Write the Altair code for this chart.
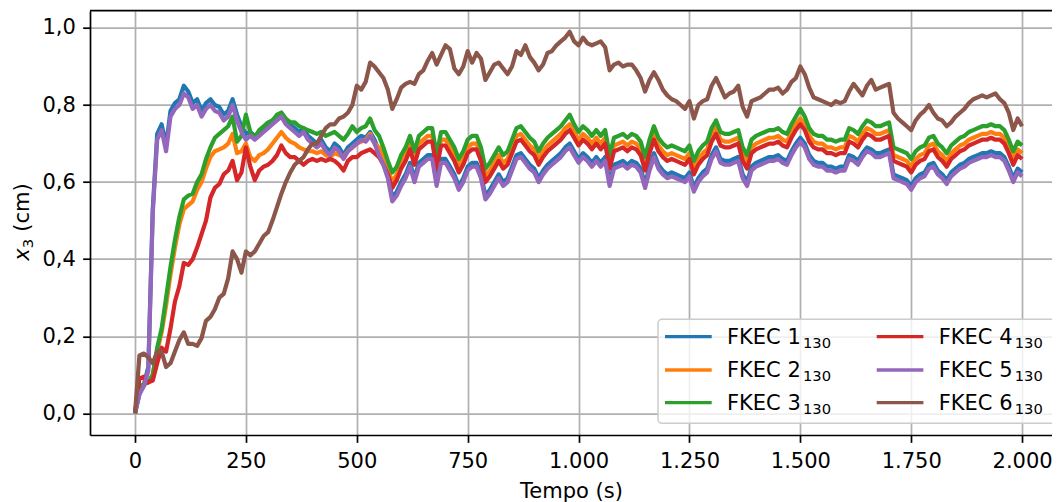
import altair as alt
import pandas as pd

t = list(range(0, 2001, 10))

fkec1 = [0.000, 0.050, 0.075, 0.120, 0.530, 0.725, 0.750, 0.695, 0.785, 0.805,
         0.815, 0.850, 0.835, 0.805, 0.815, 0.785, 0.805, 0.815, 0.800, 0.795,
         0.775, 0.785, 0.815, 0.775, 0.745, 0.725, 0.730, 0.720, 0.730, 0.740,
         0.750, 0.760, 0.770, 0.780, 0.760, 0.750, 0.740, 0.730, 0.740, 0.720,
         0.710, 0.700, 0.710, 0.690, 0.680, 0.700, 0.690, 0.670, 0.690, 0.700,
         0.710, 0.720, 0.715, 0.730, 0.710, 0.680, 0.655, 0.620, 0.560, 0.575,
         0.600, 0.620, 0.650, 0.610, 0.650, 0.660, 0.670, 0.670, 0.600, 0.660,
         0.660, 0.640, 0.620, 0.590, 0.610, 0.640, 0.650, 0.650, 0.620, 0.565,
         0.580, 0.600, 0.620, 0.600, 0.610, 0.640, 0.670, 0.675, 0.660, 0.645,
         0.635, 0.610, 0.630, 0.645, 0.655, 0.665, 0.675, 0.690, 0.700, 0.680,
         0.660, 0.675, 0.665, 0.650, 0.665, 0.650, 0.665, 0.600, 0.645, 0.650,
         0.655, 0.645, 0.655, 0.650, 0.635, 0.595, 0.640, 0.675, 0.645, 0.630,
         0.620, 0.625, 0.620, 0.615, 0.610, 0.625, 0.585, 0.610, 0.625, 0.635,
         0.670, 0.690, 0.660, 0.655, 0.655, 0.660, 0.665, 0.620, 0.600, 0.640,
         0.650, 0.655, 0.660, 0.665, 0.665, 0.670, 0.660, 0.655, 0.680, 0.700,
         0.715, 0.700, 0.670, 0.655, 0.650, 0.650, 0.640, 0.640, 0.635, 0.640,
         0.640, 0.670, 0.665, 0.655, 0.675, 0.690, 0.685, 0.675, 0.675, 0.680,
         0.685, 0.620, 0.615, 0.610, 0.605, 0.590, 0.610, 0.620, 0.625, 0.645,
         0.650, 0.630, 0.620, 0.605, 0.625, 0.635, 0.645, 0.650, 0.660, 0.665,
         0.670, 0.675, 0.675, 0.680, 0.675, 0.675, 0.665, 0.640, 0.610, 0.635,
         0.625]

fkec2 = [0.000, 0.070, 0.075, 0.080, 0.100, 0.160, 0.210, 0.280, 0.360, 0.430,
         0.490, 0.530, 0.540, 0.550, 0.580, 0.600, 0.635, 0.665, 0.680, 0.685,
         0.690, 0.700, 0.725, 0.675, 0.680, 0.700, 0.665, 0.655, 0.670, 0.675,
         0.685, 0.700, 0.715, 0.730, 0.715, 0.705, 0.700, 0.690, 0.685, 0.680,
         0.680, 0.675, 0.680, 0.670, 0.665, 0.675, 0.670, 0.665, 0.680, 0.690,
         0.700, 0.705, 0.710, 0.725, 0.700, 0.690, 0.665, 0.635, 0.600, 0.620,
         0.650, 0.670, 0.700, 0.660, 0.700, 0.710, 0.720, 0.720, 0.650, 0.710,
         0.710, 0.690, 0.670, 0.640, 0.660, 0.690, 0.700, 0.700, 0.670, 0.615,
         0.630, 0.650, 0.670, 0.650, 0.660, 0.690, 0.720, 0.725, 0.710, 0.695,
         0.685, 0.660, 0.680, 0.695, 0.705, 0.715, 0.725, 0.740, 0.750, 0.730,
         0.710, 0.725, 0.715, 0.700, 0.715, 0.700, 0.715, 0.650, 0.695, 0.700,
         0.705, 0.695, 0.705, 0.700, 0.685, 0.645, 0.690, 0.725, 0.695, 0.680,
         0.670, 0.675, 0.670, 0.665, 0.660, 0.675, 0.635, 0.660, 0.675, 0.685,
         0.720, 0.740, 0.710, 0.705, 0.705, 0.710, 0.715, 0.670, 0.650, 0.690,
         0.700, 0.705, 0.710, 0.715, 0.715, 0.720, 0.710, 0.705, 0.730, 0.750,
         0.765, 0.750, 0.720, 0.705, 0.700, 0.700, 0.690, 0.690, 0.685, 0.690,
         0.690, 0.720, 0.715, 0.705, 0.725, 0.740, 0.735, 0.725, 0.725, 0.730,
         0.735, 0.670, 0.665, 0.660, 0.655, 0.640, 0.660, 0.670, 0.675, 0.695,
         0.700, 0.680, 0.670, 0.655, 0.675, 0.685, 0.695, 0.700, 0.710, 0.715,
         0.720, 0.725, 0.725, 0.730, 0.725, 0.725, 0.715, 0.690, 0.660, 0.685,
         0.675]

fkec3 = [0.000, 0.070, 0.075, 0.080, 0.100, 0.170, 0.220, 0.300, 0.380, 0.450,
         0.510, 0.555, 0.565, 0.570, 0.600, 0.620, 0.660, 0.690, 0.715, 0.725,
         0.735, 0.745, 0.770, 0.705, 0.720, 0.775, 0.730, 0.715, 0.735, 0.745,
         0.755, 0.760, 0.775, 0.780, 0.765, 0.755, 0.755, 0.745, 0.740, 0.735,
         0.730, 0.725, 0.730, 0.720, 0.725, 0.730, 0.720, 0.710, 0.725, 0.745,
         0.730, 0.740, 0.745, 0.765, 0.735, 0.720, 0.690, 0.655, 0.625, 0.640,
         0.670, 0.690, 0.720, 0.680, 0.720, 0.730, 0.740, 0.740, 0.670, 0.730,
         0.730, 0.710, 0.690, 0.660, 0.680, 0.710, 0.720, 0.720, 0.690, 0.635,
         0.650, 0.670, 0.690, 0.670, 0.680, 0.710, 0.740, 0.745, 0.730, 0.715,
         0.705, 0.680, 0.700, 0.715, 0.725, 0.735, 0.745, 0.760, 0.775, 0.750,
         0.730, 0.745, 0.735, 0.720, 0.735, 0.720, 0.735, 0.670, 0.715, 0.720,
         0.725, 0.715, 0.725, 0.720, 0.705, 0.665, 0.710, 0.745, 0.715, 0.700,
         0.690, 0.695, 0.690, 0.685, 0.680, 0.695, 0.655, 0.680, 0.695, 0.705,
         0.740, 0.760, 0.730, 0.725, 0.725, 0.730, 0.735, 0.690, 0.670, 0.710,
         0.720, 0.725, 0.730, 0.735, 0.735, 0.740, 0.730, 0.725, 0.750, 0.770,
         0.790, 0.770, 0.740, 0.725, 0.720, 0.720, 0.710, 0.710, 0.705, 0.710,
         0.710, 0.740, 0.735, 0.725, 0.745, 0.760, 0.755, 0.745, 0.745, 0.750,
         0.755, 0.690, 0.685, 0.680, 0.675, 0.660, 0.680, 0.690, 0.695, 0.715,
         0.720, 0.700, 0.690, 0.675, 0.695, 0.705, 0.715, 0.720, 0.730, 0.735,
         0.740, 0.745, 0.745, 0.750, 0.745, 0.745, 0.735, 0.710, 0.680, 0.705,
         0.695]

fkec4 = [0.000, 0.090, 0.095, 0.080, 0.085, 0.130, 0.170, 0.160, 0.220, 0.290,
         0.330, 0.390, 0.385, 0.400, 0.430, 0.465, 0.500, 0.560, 0.585, 0.595,
         0.620, 0.630, 0.655, 0.605, 0.625, 0.690, 0.640, 0.605, 0.630, 0.640,
         0.645, 0.655, 0.670, 0.695, 0.675, 0.665, 0.665, 0.655, 0.645, 0.655,
         0.660, 0.655, 0.660, 0.655, 0.660, 0.655, 0.645, 0.630, 0.655, 0.665,
         0.665, 0.675, 0.680, 0.685, 0.675, 0.665, 0.645, 0.620, 0.585, 0.605,
         0.635, 0.655, 0.685, 0.645, 0.685, 0.695, 0.705, 0.705, 0.635, 0.695,
         0.695, 0.675, 0.655, 0.625, 0.645, 0.675, 0.685, 0.685, 0.655, 0.600,
         0.615, 0.635, 0.655, 0.635, 0.645, 0.675, 0.705, 0.710, 0.695, 0.680,
         0.670, 0.645, 0.665, 0.680, 0.690, 0.700, 0.710, 0.725, 0.735, 0.715,
         0.695, 0.710, 0.700, 0.685, 0.700, 0.685, 0.700, 0.635, 0.680, 0.685,
         0.690, 0.680, 0.690, 0.685, 0.670, 0.630, 0.675, 0.710, 0.680, 0.665,
         0.655, 0.660, 0.655, 0.650, 0.645, 0.660, 0.620, 0.645, 0.660, 0.670,
         0.705, 0.725, 0.695, 0.690, 0.690, 0.695, 0.700, 0.655, 0.635, 0.675,
         0.685, 0.690, 0.695, 0.700, 0.700, 0.705, 0.695, 0.690, 0.715, 0.735,
         0.750, 0.735, 0.705, 0.690, 0.685, 0.685, 0.675, 0.675, 0.670, 0.675,
         0.675, 0.705, 0.700, 0.690, 0.710, 0.725, 0.720, 0.710, 0.710, 0.715,
         0.720, 0.655, 0.650, 0.645, 0.640, 0.625, 0.645, 0.655, 0.660, 0.680,
         0.685, 0.665, 0.655, 0.640, 0.660, 0.670, 0.680, 0.685, 0.695, 0.700,
         0.705, 0.710, 0.710, 0.715, 0.710, 0.710, 0.700, 0.675, 0.645, 0.670,
         0.660]

fkec5 = [0.000, 0.050, 0.070, 0.110, 0.520, 0.710, 0.735, 0.680, 0.770, 0.790,
         0.800, 0.830, 0.820, 0.790, 0.800, 0.770, 0.790, 0.800, 0.785, 0.780,
         0.760, 0.770, 0.800, 0.760, 0.730, 0.710, 0.720, 0.710, 0.720, 0.730,
         0.740, 0.750, 0.760, 0.770, 0.750, 0.740, 0.730, 0.720, 0.730, 0.710,
         0.700, 0.690, 0.700, 0.680, 0.670, 0.690, 0.680, 0.660, 0.680, 0.690,
         0.700, 0.710, 0.705, 0.720, 0.700, 0.670, 0.645, 0.610, 0.550, 0.565,
         0.590, 0.610, 0.640, 0.600, 0.640, 0.650, 0.660, 0.660, 0.590, 0.650,
         0.650, 0.630, 0.610, 0.580, 0.600, 0.630, 0.640, 0.640, 0.610, 0.555,
         0.570, 0.590, 0.610, 0.590, 0.600, 0.630, 0.660, 0.665, 0.650, 0.635,
         0.625, 0.600, 0.620, 0.635, 0.645, 0.655, 0.665, 0.680, 0.690, 0.670,
         0.650, 0.665, 0.655, 0.640, 0.655, 0.640, 0.655, 0.590, 0.635, 0.640,
         0.645, 0.635, 0.645, 0.640, 0.625, 0.585, 0.630, 0.665, 0.635, 0.620,
         0.610, 0.615, 0.610, 0.605, 0.600, 0.615, 0.575, 0.600, 0.615, 0.625,
         0.660, 0.680, 0.650, 0.645, 0.645, 0.650, 0.655, 0.610, 0.590, 0.630,
         0.640, 0.645, 0.650, 0.655, 0.655, 0.660, 0.650, 0.645, 0.670, 0.690,
         0.705, 0.690, 0.660, 0.645, 0.640, 0.640, 0.630, 0.630, 0.625, 0.630,
         0.630, 0.660, 0.655, 0.645, 0.665, 0.680, 0.675, 0.665, 0.665, 0.670,
         0.675, 0.610, 0.605, 0.600, 0.595, 0.580, 0.600, 0.610, 0.615, 0.635,
         0.640, 0.620, 0.610, 0.595, 0.615, 0.625, 0.635, 0.640, 0.650, 0.655,
         0.660, 0.665, 0.665, 0.670, 0.665, 0.665, 0.655, 0.630, 0.600, 0.625,
         0.615]

fkec6 = [0.000, 0.150, 0.155, 0.145, 0.130, 0.160, 0.160, 0.120, 0.130, 0.160,
         0.190, 0.210, 0.180, 0.180, 0.175, 0.195, 0.240, 0.250, 0.270, 0.300,
         0.310, 0.350, 0.420, 0.400, 0.365, 0.420, 0.410, 0.420, 0.440, 0.460,
         0.470, 0.500, 0.535, 0.570, 0.600, 0.625, 0.645, 0.655, 0.665, 0.685,
         0.700, 0.700, 0.720, 0.740, 0.750, 0.750, 0.765, 0.770, 0.780, 0.800,
         0.850, 0.840, 0.860, 0.910, 0.900, 0.885, 0.870, 0.840, 0.790, 0.815,
         0.845, 0.855, 0.860, 0.855, 0.880, 0.890, 0.915, 0.935, 0.905, 0.930,
         0.955, 0.945, 0.895, 0.880, 0.900, 0.940, 0.910, 0.935, 0.920, 0.865,
         0.885, 0.905, 0.910, 0.895, 0.880, 0.900, 0.940, 0.930, 0.955, 0.925,
         0.910, 0.890, 0.905, 0.935, 0.940, 0.955, 0.965, 0.975, 0.990, 0.965,
         0.955, 0.975, 0.960, 0.955, 0.960, 0.965, 0.950, 0.890, 0.905, 0.910,
         0.900, 0.905, 0.905, 0.890, 0.870, 0.835, 0.865, 0.885, 0.865, 0.840,
         0.825, 0.815, 0.810, 0.800, 0.790, 0.810, 0.765, 0.800, 0.810, 0.815,
         0.850, 0.870, 0.845, 0.820, 0.830, 0.835, 0.850, 0.795, 0.770, 0.810,
         0.815, 0.820, 0.830, 0.840, 0.840, 0.845, 0.830, 0.840, 0.860, 0.870,
         0.900, 0.880, 0.845, 0.820, 0.815, 0.810, 0.805, 0.800, 0.810, 0.805,
         0.810, 0.835, 0.855, 0.840, 0.825, 0.850, 0.865, 0.840, 0.845, 0.850,
         0.855, 0.780, 0.765, 0.755, 0.745, 0.735, 0.760, 0.775, 0.785, 0.800,
         0.780, 0.765, 0.760, 0.745, 0.755, 0.770, 0.780, 0.790, 0.805, 0.815,
         0.820, 0.825, 0.820, 0.825, 0.830, 0.815, 0.805, 0.780, 0.735, 0.765,
         0.745]

names = ["FKEC 1", "FKEC 2", "FKEC 3", "FKEC 4", "FKEC 5", "FKEC 6"]
subscripts = ["130", "130", "130", "130", "130", "130"]
colors = ["#1f77b4", "#ff7f0e", "#2ca02c", "#d62728", "#9467bd", "#8c564b"]
series = [fkec1, fkec2, fkec3, fkec4, fkec5, fkec6]

x_ticks = [0, 250, 500, 750, 1000, 1250, 1500, 1750, 2000]
y_ticks = [0.0, 0.2, 0.4, 0.6, 0.8, 1.0]

rows = []
for name, vals in zip(names, series):
    for ti, v in zip(t, vals):
        rows.append({"t": ti, "v": v, "s": name})
df = pd.DataFrame(rows)

W, H = 962, 424.3
FONT = "DejaVu Sans"
FS = 21
LW = 4.2

xscale = alt.Scale(domain=[-101.5, 2067.4], nice=False, zero=False)
yscale = alt.Scale(domain=[-0.0564, 1.0448], nice=False, zero=False)

xaxis = alt.Axis(values=x_ticks, labelExpr="replace(format(datum.value, ',d'), ',', '.')",
                 title="Tempo (s)", grid=True, labelFlush=False, labelOverlap=False,
                 labelPadding=8, tickSize=7.35, titlePadding=9.5)
yaxis = alt.Axis(values=y_ticks, labelExpr="replace(format(datum.value, '.1f'), '.', ',')",
                 title=None, grid=True, labelFlush=False, labelOverlap=False,
                 labelPadding=7.35, tickSize=7.35)

layers = []
for name, color in zip(names, colors):
    layers.append(
        alt.Chart(df).transform_filter(alt.datum.s == name)
        .mark_line(color=color, strokeWidth=LW, clip=True, strokeJoin="round")
        .encode(x=alt.X("t:Q", scale=xscale, axis=xaxis),
                y=alt.Y("v:Q", scale=yscale, axis=yaxis))
    )

one = pd.DataFrame({"k": [0]})
# top frame line
layers.append(alt.Chart(one).mark_rule(color="black", strokeWidth=1.7)
              .encode(x=alt.value(0), x2=alt.value(W), y=alt.value(0)))

# y axis title: x_3 (cm)
ytx = -61
layers.append(alt.Chart(one).mark_text(text="x", angle=270, align="left", baseline="alphabetic",
                                       font=FONT, fontSize=FS, fontStyle="italic", color="black")
              .encode(x=alt.value(ytx), y=alt.value(250)))
layers.append(alt.Chart(one).mark_text(text="3", angle=270, align="left", baseline="alphabetic",
                                       font=FONT, fontSize=14.7, color="black")
              .encode(x=alt.value(ytx + 4), y=alt.value(237.5)))
layers.append(alt.Chart(one).mark_text(text="(cm)", angle=270, align="left", baseline="alphabetic",
                                       font=FONT, fontSize=FS, color="black")
              .encode(x=alt.value(ytx), y=alt.value(221)))

# legend
layers.append(alt.Chart(one).mark_rect(fill="white", fillOpacity=0.8, stroke="#cccccc",
                                       strokeWidth=1.5, cornerRadius=4)
              .encode(x=alt.value(568), x2=alt.value(966), y=alt.value(308.6), y2=alt.value(412.6)))
row_y = [326, 359.3, 392]
col_x = [575, 786.7]
for i, (name, sub, color) in enumerate(zip(names, subscripts, colors)):
    c, r = divmod(i, 3)
    lx = col_x[c]
    ly = row_y[r]
    layers.append(alt.Chart(one).mark_rule(color=color, strokeWidth=3.3)
                  .encode(x=alt.value(lx), x2=alt.value(lx + 46.7), y=alt.value(ly)))
    layers.append(alt.Chart(one).mark_text(text=name, align="left", baseline="alphabetic",
                                           font=FONT, fontSize=FS, color="black")
                  .encode(x=alt.value(lx + 62), y=alt.value(ly + 7.3)))
    layers.append(alt.Chart(one).mark_text(text=sub, align="left", baseline="alphabetic",
                                           font=FONT, fontSize=14.7, color="black")
                  .encode(x=alt.value(lx + 138), y=alt.value(ly + 10.8)))

chart = alt.layer(*layers).properties(
    width=W, height=H,
    autosize=alt.AutoSizeParams(type="none"),
    padding={"left": 82, "top": 2.7, "right": 0, "bottom": 67},
    background="white",
).configure_view(stroke=None).configure_axis(
    labelFont=FONT, labelFontSize=FS, labelColor="black",
    titleFont=FONT, titleFontSize=FS, titleColor="black", titleFontWeight="normal",
    domainColor="black", domainWidth=1.7, tickColor="black", tickWidth=1.7,
    gridColor="#b0b0b0", gridWidth=1.7, gridOpacity=1,
)

chart.save("out.html", embed_options={"renderer": "svg", "actions": False})
